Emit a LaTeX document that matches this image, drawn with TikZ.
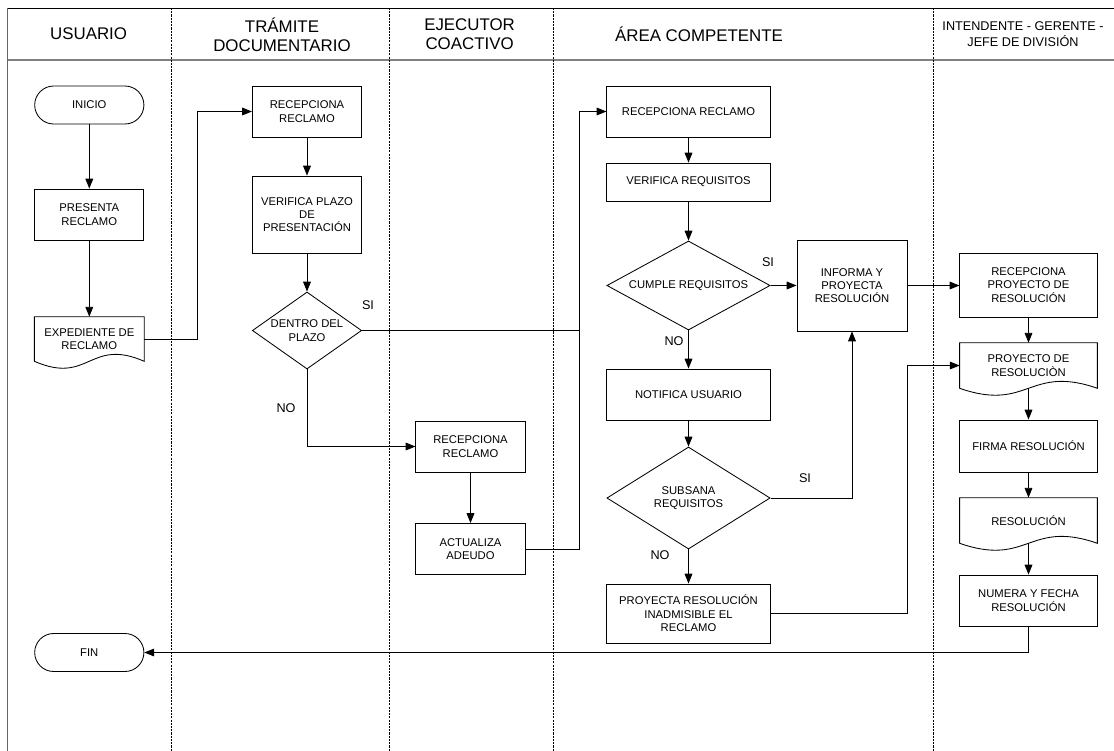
\documentclass[tikz,border=0pt]{standalone}
\usepackage{fontspec}
\setmainfont{Liberation Sans}
\usetikzlibrary{arrows.meta}
\usetikzlibrary{shapes.geometric}

\tikzset{
  proc/.style={draw, line width=0.6pt, align=center, inner sep=1pt,
    minimum width=2.73cm, minimum height=1.275cm, font=\fontsize{8}{9.5}\selectfont},
  term/.style={proc, minimum height=0.95cm, rounded corners=0.475cm},
  doc/.style={align=center, inner sep=1pt, minimum width=2.73cm,
    minimum height=1.1cm, font=\fontsize{8}{9.5}\selectfont},
  decision/.style={draw, diamond, line width=0.6pt, align=center, inner sep=0pt,
    font=\fontsize{8}{9.5}\selectfont},
  flow/.style={line width=0.6pt, -{Triangle[length=7pt,width=5.5pt]}},
  link/.style={line width=0.6pt},
  lane/.style={line width=0.6pt, dash pattern=on 1.5pt off 0.8pt},
  lanetitle/.style={align=center, font=\fontsize{12}{13.5}\selectfont},
  lbl/.style={font=\fontsize{9}{10}\selectfont}
}

\newcommand{\docoutline}[1]{%
  \draw[line width=0.6pt] (#1.south west) -- (#1.north west) -- (#1.north east) -- (#1.south east)
    .. controls ([shift={(0,-24)}]#1.south) and ([shift={(0,24)}]#1.south) .. (#1.south west);}

\begin{document}
\begin{tikzpicture}[x=0.025cm,y=-0.025cm]
\useasboundingbox (0,0) rectangle (1114,751);

\draw[line width=0.7pt] (7.9,8) -- (1114,8);
\draw[gray, line width=1.2pt] (7.9,60) -- (1114,60);
\draw[gray!80!black, line width=0.8pt] (7.9,8) -- (7.9,751);
\foreach \x in {171.4,389.3,553,933.5}
  \draw[lane] (\x,8) -- (\x,751);

\node[lanetitle] (tusuario) at (88.6,34) {USUARIO};
\node[lanetitle] (ttramite) at (282,34.5) {TRÁMITE\\DOCUMENTARIO};
\node[lanetitle] (tejecutor) at (469.6,34.5) {EJECUTOR\\COACTIVO};
\node[lanetitle] (tarea) at (699,34) {ÁREA COMPETENTE};
\node[lanetitle, font=\fontsize{9}{11.4}\selectfont] (tintendente) at (1023,34) {INTENDENTE - GERENTE -\\JEFE DE DIVISIÓN};

\node[term] (inicio) at (89.3,105) {INICIO};
\node[proc] (presenta) at (89.3,214.5) {PRESENTA\\RECLAMO};
\node[doc] (exped) at (89.3,339) {EXPEDIENTE DE\\RECLAMO};
\docoutline{exped}
\node[term] (fin) at (89.3,652.5) {FIN};

\node[proc] (recepuno) at (307,111.5) {RECEPCIONA\\RECLAMO};
\node[proc, minimum height=1.925cm] (verplazo) at (307,214.5) {VERIFICA PLAZO\\DE\\PRESENTACIÓN};
\node[decision, minimum width=2.73cm, minimum height=1.925cm, aspect=1.42] (dentro) at (307,330.5) {DENTRO DEL\\PLAZO};

\node[proc] (recepdos) at (470.5,446.5) {RECEPCIONA\\RECLAMO};
\node[proc] (actualiza) at (470.5,549) {ACTUALIZA\\ADEUDO};

\node[proc, minimum width=4.08cm] (receptres) at (688.5,111.5) {RECEPCIONA RECLAMO};
\node[proc, minimum width=4.08cm, minimum height=0.95cm] (verreq) at (688.5,182) {VERIFICA REQUISITOS};
\node[decision, minimum width=4.08cm, minimum height=2.225cm, aspect=1.83] (cumple) at (688.5,285.5) {CUMPLE REQUISITOS};
\node[proc, minimum width=4.08cm] (notifica) at (688.5,394.5) {NOTIFICA USUARIO};
\node[decision, minimum width=4.08cm, minimum height=2.55cm, aspect=1.6] (subsana) at (688.5,498) {SUBSANA\\REQUISITOS};
\node[proc, minimum width=4.08cm, minimum height=1.475cm] (proyecta) at (688.5,613.5) {PROYECTA RESOLUCIÓN\\INADMISIBLE EL\\RECLAMO};
\node[proc, minimum width=2.75cm, minimum height=2.275cm] (informa) at (852,285.5) {INFORMA Y\\PROYECTA\\RESOLUCIÓN};

\node[proc, minimum width=3.43cm, minimum height=1.6cm] (recepproy) at (1028.5,285) {RECEPCIONA\\PROYECTO DE\\RESOLUCIÓN};
\node[doc, minimum width=3.43cm, minimum height=1.125cm] (proydoc) at (1028.5,365.5) {PROYECTO DE\\RESOLUCIÒN};
\docoutline{proydoc}
\node[proc, minimum width=3.43cm, minimum height=1.3cm] (firma) at (1028.5,446) {FIRMA RESOLUCIÓN};
\node[doc, minimum width=3.43cm, minimum height=1.125cm] (resol) at (1028.5,520.5) {RESOLUCIÓN};
\docoutline{resol}
\node[proc, minimum width=3.43cm] (numera) at (1028.5,600.5) {NUMERA Y FECHA\\RESOLUCIÓN};

\node[lbl] (siuno) at (368,305) {SI};
\node[lbl] (nouno) at (286,408) {NO};
\node[lbl] (sidos) at (768,262) {SI};
\node[lbl] (nodos) at (674,341) {NO};
\node[lbl] (sitres) at (805,478) {SI};
\node[lbl] (notres) at (660,555) {NO};

\coordinate (jexp) at (197.5,0);
\coordinate (jarea) at (579.5,0);

\draw[flow] (inicio) -- (presenta);
\draw[flow] (presenta) -- (exped);
\draw[flow] (exped.east) -- (exped.east -| jexp) -- (recepuno.west -| jexp) -- (recepuno.west);
\draw[flow] (recepuno) -- (verplazo);
\draw[flow] (verplazo) -- (dentro);
\draw[link] (dentro.east) -- (dentro.east -| jarea);
\draw[flow] (dentro.south) |- (recepdos.west);
\draw[flow] (recepdos) -- (actualiza);
\draw[flow] (actualiza.east) -- (actualiza.east -| jarea) -- (receptres.west -| jarea) -- (receptres.west);
\draw[flow] (receptres) -- (verreq);
\draw[flow] (verreq) -- (cumple);
\draw[flow] (cumple.east) -- (informa.west |- cumple.east);
\draw[flow] (cumple.south) -- (notifica);
\draw[flow] (notifica) -- (subsana);
\draw[flow] (subsana.south) -- (proyecta);
\draw[flow] (subsana.east) -| (informa.south);
\draw[flow] (informa.east) -- (recepproy.west |- informa.east);
\draw[flow] (proyecta.east) -- (proyecta.east -| informa.east) -- (proydoc.west -| informa.east) -- (proydoc.west);
\draw[flow] (recepproy) -- (proydoc);
\draw[flow] (proydoc.south) -- (firma);
\draw[flow] (firma) -- (resol);
\draw[flow] (resol.south) -- (numera);
\draw[flow] (numera.south) |- (fin.east);
\end{tikzpicture}
\end{document}
